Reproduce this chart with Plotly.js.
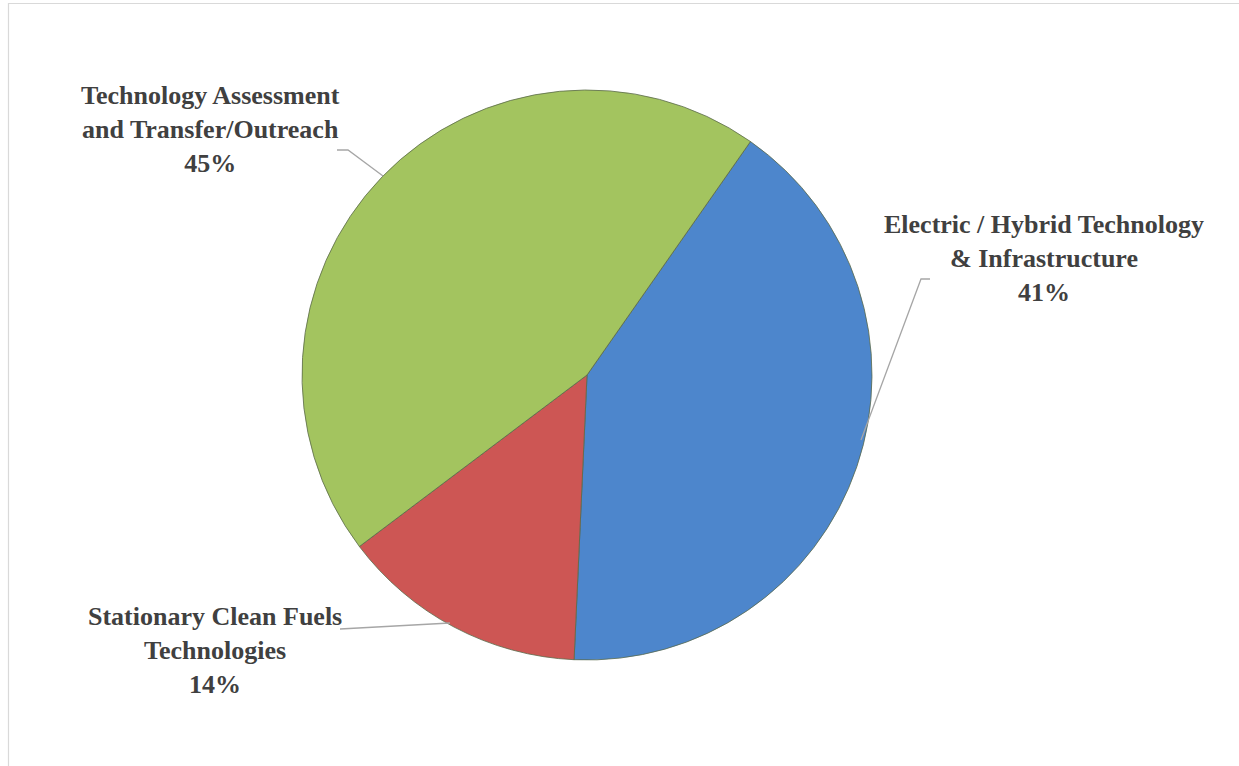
<!DOCTYPE html>
<html>
<head>
<meta charset="utf-8">
<script src="https://cdn.plot.ly/plotly-3.0.1.min.js"></script>
<style>html,body{margin:0;padding:0;background:#fff;}#chart{width:1239px;height:766px;}</style>
</head>
<body>
<div id="chart"></div>
<script>
const categories = ["Electric / Hybrid Technology<br>& Infrastructure", "Stationary Clean Fuels<br>Technologies", "Technology Assessment<br>and Transfer/Outreach"];
const shares = [41, 14, 45];
const sliceColors = ["#4d86cc", "#cd5654", "#a3c45f"];

const W = 1239, H = 766;
const px = x => x / W, py = y => 1 - y / H;

const labelPos = [
  {x: 1044, y: 258},
  {x: 215, y: 650},
  {x: 210, y: 130}
];
const leaders = [
  [[930, 279], [921, 279], [861, 440]],
  [[340, 629], [450, 623]],
  [[337, 150], [348, 150], [383, 176]]
];

const annotations = categories.map((c, i) => ({
  xref: 'paper', yref: 'paper',
  x: px(labelPos[i].x), y: py(labelPos[i].y),
  xanchor: 'center', yanchor: 'middle',
  text: '<b>' + c + '<br>' + shares[i] + '%</b>',
  showarrow: false, align: 'center',
  font: {family: 'Liberation Serif', size: 26, color: '#404040'}
}));

const shapes = leaders.map(pts => ({
  type: 'path', xref: 'paper', yref: 'paper',
  path: pts.map((p, j) => (j ? 'L' : 'M') + px(p[0]) + ',' + py(p[1])).join(' '),
  line: {color: '#a6a6a6', width: 1.3}
}));
shapes.push({
  type: 'rect', xref: 'paper', yref: 'paper',
  x0: px(8.5), y0: -0.05, x1: 1.05, y1: py(3.5),
  line: {color: '#d9d9d9', width: 1.2}, layer: 'below'
});

Plotly.newPlot('chart', [{
  type: 'pie',
  labels: categories,
  values: shares,
  sort: false,
  direction: 'clockwise',
  rotation: 35,
  textinfo: 'none',
  hoverinfo: 'label+percent',
  marker: {colors: sliceColors, line: {color: '#5a6a4a', width: 0.8}},
  domain: {x: [px(302), px(872)], y: [py(660), py(90)]}
}], {
  width: W, height: H,
  margin: {l: 0, r: 0, t: 0, b: 0},
  showlegend: false,
  paper_bgcolor: '#ffffff',
  annotations: annotations,
  shapes: shapes
}, {displayModeBar: false, staticPlot: true});
</script>
</body>
</html>
